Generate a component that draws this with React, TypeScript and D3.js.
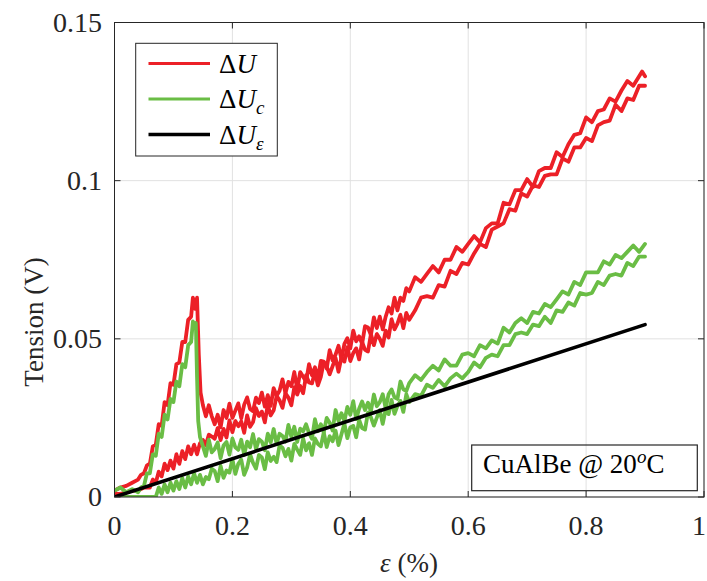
import React from "react";
import * as d3 from "d3";

// ---- data ----
const xTicks = [0, 0.2, 0.4, 0.6, 0.8, 1];
const xTickLabels = ["0", "0.2", "0.4", "0.6", "0.8", "1"];
const yTicks = [0, 0.05, 0.1, 0.15];
const yTickLabels = ["0", "0.05", "0.1", "0.15"];

// ΔU loading (strain %, tension V)
const dU_load: [number, number][] = [
  [0.00,0.002],[0.01,0.003],[0.02,0.0035],[0.03,0.0045],[0.04,0.0055],[0.045,0.007],[0.05,0.0075],[0.055,0.010],
  [0.06,0.0105],[0.065,0.016],[0.07,0.0165],[0.075,0.023],[0.08,0.0225],[0.085,0.030],[0.09,0.029],[0.095,0.036],
  [0.10,0.0355],[0.105,0.042],[0.11,0.0425],[0.115,0.049],[0.12,0.049],[0.125,0.056],[0.13,0.057],[0.133,0.063],
  [0.137,0.0595],[0.14,0.063],[0.143,0.045],[0.146,0.033],
  [0.150,0.029],[0.155,0.0255],[0.160,0.029],[0.165,0.0255],[0.170,0.023],[0.175,0.026],[0.180,0.022],[0.185,0.0275],
  [0.190,0.025],[0.195,0.0295],[0.200,0.025],[0.205,0.0273],[0.210,0.0296],[0.215,0.0249],[0.220,0.0292],[0.225,0.0315],
  [0.230,0.0278],[0.235,0.0271],[0.240,0.0314],[0.245,0.0297],[0.250,0.033],[0.255,0.0286],[0.260,0.0322],[0.265,0.0288],
  [0.270,0.0344],[0.275,0.032],[0.280,0.0336],[0.285,0.0372],[0.290,0.0328],[0.295,0.0364],[0.300,0.035],[0.305,0.0395],
  [0.310,0.034],[0.315,0.0395],[0.320,0.038],[0.325,0.0365],[0.330,0.042],[0.335,0.0385],[0.340,0.041],[0.345,0.0375],
  [0.350,0.043],[0.355,0.0428],[0.360,0.0406],[0.365,0.0464],[0.370,0.0432],[0.375,0.045],[0.380,0.0478],[0.385,0.0436],
  [0.390,0.0484],[0.395,0.0502],[0.400,0.047],[0.405,0.0526],[0.410,0.0492],[0.415,0.0508],[0.420,0.0484],[0.425,0.054],
  [0.430,0.0536],[0.435,0.0512],[0.440,0.0568],[0.445,0.0534],[0.450,0.057],[0.455,0.053],[0.460,0.057],[0.465,0.060],
  [0.470,0.058],[0.475,0.063],[0.480,0.059],[0.485,0.063],[0.490,0.062],[0.495,0.066],[0.500,0.065],
  [0.51,0.0695],[0.52,0.068],[0.53,0.0705],[0.54,0.073],[0.55,0.071],[0.56,0.075],[0.57,0.075],[0.58,0.079],
  [0.59,0.0775],[0.60,0.080],[0.61,0.0825],[0.62,0.0805],[0.63,0.085],[0.64,0.0865],[0.65,0.0865],[0.66,0.093],
  [0.67,0.0925],[0.68,0.097],[0.69,0.097],[0.70,0.1005],[0.71,0.098],[0.72,0.103],[0.73,0.104],[0.74,0.104],
  [0.75,0.109],[0.76,0.1075],[0.77,0.1115],[0.78,0.1145],[0.79,0.115],[0.80,0.120],[0.81,0.1185],[0.82,0.122],
  [0.83,0.1225],[0.84,0.126],[0.85,0.125],[0.86,0.1285],[0.87,0.1315],[0.88,0.130],[0.89,0.133],[0.895,0.1345],
  [0.90,0.133],
];
// ΔU unloading
const dU_unload: [number, number][] = [
  [0.90,0.130],[0.89,0.130],[0.88,0.1255],[0.87,0.126],[0.86,0.122],[0.85,0.124],[0.84,0.119],[0.83,0.1185],
  [0.82,0.1175],[0.81,0.1125],[0.80,0.1135],[0.79,0.1105],[0.78,0.1105],[0.77,0.106],[0.76,0.107],[0.75,0.102],
  [0.74,0.102],[0.73,0.1015],[0.72,0.098],[0.71,0.0985],[0.70,0.095],[0.69,0.096],[0.68,0.0905],[0.67,0.091],
  [0.66,0.0865],[0.65,0.0855],[0.64,0.0845],[0.63,0.079],[0.62,0.080],[0.61,0.077],[0.60,0.0735],[0.59,0.074],
  [0.58,0.0705],[0.57,0.0715],[0.56,0.0665],[0.55,0.067],[0.54,0.063],[0.53,0.0635],[0.52,0.063],[0.51,0.059],
  [0.500,0.056],[0.495,0.0582],[0.490,0.0534],[0.485,0.0576],[0.480,0.0548],[0.475,0.053],[0.470,0.0562],[0.465,0.0504],
  [0.460,0.0526],[0.455,0.0478],[0.450,0.050],[0.445,0.0515],[0.440,0.048],[0.435,0.0515],[0.430,0.046],[0.425,0.0465],
  [0.420,0.049],[0.415,0.0435],[0.410,0.047],[0.405,0.0455],[0.400,0.043],[0.395,0.0474],[0.390,0.0428],[0.385,0.0442],
  [0.380,0.0396],[0.375,0.044],[0.370,0.0414],[0.365,0.0388],[0.360,0.0412],[0.355,0.0426],[0.350,0.038],[0.345,0.0353],
  [0.340,0.0396],[0.335,0.0359],[0.330,0.0362],[0.325,0.0385],[0.320,0.0328],[0.315,0.0351],[0.310,0.0324],[0.305,0.0347],
  [0.300,0.029],[0.295,0.0314],[0.290,0.0328],[0.285,0.0282],[0.280,0.0306],[0.275,0.032],[0.270,0.0274],[0.265,0.0258],
  [0.260,0.0292],[0.255,0.0236],[0.250,0.027],[0.245,0.0256],[0.240,0.0281],[0.235,0.0237],[0.230,0.0222],[0.225,0.0258],
  [0.220,0.0203],[0.215,0.0239],[0.210,0.0224],[0.205,0.024],[0.200,0.0205],[0.195,0.0242],[0.190,0.0188],[0.185,0.0215],
  [0.180,0.018],[0.175,0.0218],[0.170,0.0184],[0.165,0.0191],[0.160,0.0197],[0.155,0.0164],[0.150,0.018],
  [0.145,0.017],[0.14,0.0135],[0.135,0.0165],[0.13,0.0135],[0.125,0.016],[0.12,0.012],[0.115,0.0145],[0.11,0.0105],
  [0.105,0.0135],[0.10,0.009],[0.095,0.0115],[0.09,0.0085],[0.085,0.0105],[0.08,0.0065],[0.075,0.008],[0.07,0.0045],
  [0.065,0.0055],[0.06,0.003],[0.05,0.003],[0.04,0.002],[0.03,0.002],[0.02,0.0015],[0.01,0.001],[0.00,0.001],
];
// ΔUc loading
const dUc_load: [number, number][] = [
  [0.00,0.002],[0.01,0.003],[0.02,0.0015],[0.03,0.0025],[0.04,0.0015],[0.045,0.003],[0.05,0.0035],[0.055,0.0075],
  [0.06,0.0075],[0.065,0.0135],[0.07,0.013],[0.075,0.020],[0.08,0.019],[0.085,0.026],[0.09,0.0245],[0.095,0.031],
  [0.10,0.030],[0.105,0.0365],[0.11,0.035],[0.115,0.042],[0.12,0.041],[0.125,0.048],[0.13,0.049],[0.133,0.0555],
  [0.136,0.0535],[0.138,0.055],[0.140,0.038],[0.142,0.024],[0.145,0.019],
  [0.150,0.016],[0.155,0.013],[0.160,0.0181],[0.165,0.0141],[0.170,0.0152],[0.175,0.0172],[0.180,0.0123],[0.185,0.0163],
  [0.190,0.0174],[0.195,0.0134],[0.200,0.0185],[0.205,0.0157],[0.210,0.0149],[0.215,0.0181],[0.220,0.0133],[0.225,0.0175],
  [0.230,0.0157],[0.235,0.0199],[0.240,0.0151],[0.245,0.0183],[0.250,0.0175],[0.255,0.0148],[0.260,0.020],[0.265,0.0173],
  [0.270,0.0215],[0.275,0.0168],[0.280,0.020],[0.285,0.0193],[0.290,0.0175],[0.295,0.0228],[0.300,0.019],[0.305,0.0222],
  [0.310,0.0174],[0.315,0.0216],[0.320,0.0208],[0.325,0.023],[0.330,0.0202],[0.335,0.0184],[0.340,0.0246],[0.345,0.0208],
  [0.350,0.023],[0.355,0.0205],[0.360,0.025],[0.365,0.0235],[0.370,0.021],[0.375,0.0275],[0.380,0.024],[0.385,0.0265],
  [0.390,0.024],[0.395,0.0285],[0.400,0.026],[0.405,0.0303],[0.410,0.0246],[0.415,0.0279],[0.420,0.0302],[0.425,0.0275],
  [0.430,0.0298],[0.435,0.0271],[0.440,0.0324],[0.445,0.0287],[0.450,0.030],[0.455,0.0325],[0.460,0.028],[0.465,0.0325],
  [0.470,0.034],[0.475,0.0315],[0.480,0.031],[0.485,0.0365],[0.490,0.034],[0.495,0.0335],[0.500,0.036],
  [0.51,0.0385],[0.52,0.037],[0.53,0.0395],[0.54,0.0415],[0.55,0.040],[0.56,0.0435],[0.57,0.0415],[0.58,0.0415],
  [0.59,0.045],[0.60,0.0455],[0.61,0.0445],[0.62,0.048],[0.63,0.047],[0.64,0.0495],[0.65,0.0485],[0.66,0.0535],
  [0.67,0.052],[0.68,0.055],[0.69,0.0565],[0.70,0.055],[0.71,0.0585],[0.72,0.058],[0.73,0.061],[0.74,0.060],
  [0.75,0.0625],[0.76,0.065],[0.77,0.064],[0.78,0.068],[0.79,0.067],[0.80,0.071],[0.81,0.071],[0.82,0.071],
  [0.83,0.0745],[0.84,0.0735],[0.85,0.0765],[0.86,0.0755],[0.87,0.0775],[0.88,0.0795],[0.89,0.0775],[0.90,0.080],
];
// ΔUc unloading
const dUc_unload: [number, number][] = [
  [0.90,0.076],[0.89,0.076],[0.88,0.073],[0.87,0.074],[0.86,0.070],[0.85,0.0705],[0.84,0.070],[0.83,0.067],
  [0.82,0.068],[0.81,0.0645],[0.80,0.064],[0.79,0.0645],[0.78,0.0605],[0.77,0.0615],[0.76,0.0585],[0.75,0.059],
  [0.74,0.055],[0.73,0.057],[0.72,0.054],[0.71,0.0545],[0.70,0.0515],[0.69,0.052],[0.68,0.0515],[0.67,0.048],
  [0.66,0.048],[0.65,0.0445],[0.64,0.045],[0.63,0.044],[0.62,0.041],[0.61,0.0425],[0.60,0.0395],[0.59,0.0375],
  [0.58,0.039],[0.57,0.0375],[0.56,0.035],[0.55,0.037],[0.54,0.0345],[0.53,0.0355],[0.52,0.032],[0.51,0.0325],
  [0.500,0.030],[0.495,0.0325],[0.490,0.0269],[0.485,0.0304],[0.480,0.0288],[0.475,0.0263],[0.470,0.0307],[0.465,0.0262],
  [0.460,0.0276],[0.455,0.0231],[0.450,0.0275],[0.445,0.0251],[0.440,0.0226],[0.435,0.0252],[0.430,0.0267],[0.425,0.0213],
  [0.420,0.0218],[0.415,0.0244],[0.410,0.0189],[0.405,0.0225],[0.400,0.022],[0.395,0.0186],[0.390,0.0232],[0.385,0.0198],
  [0.380,0.0164],[0.375,0.021],[0.370,0.0176],[0.365,0.0192],[0.360,0.0158],[0.355,0.0204],[0.350,0.016],[0.345,0.0168],
  [0.340,0.0185],[0.335,0.0133],[0.330,0.017],[0.325,0.0148],[0.320,0.0185],[0.315,0.0133],[0.310,0.015],[0.305,0.0168],
  [0.300,0.0115],[0.295,0.0152],[0.290,0.0129],[0.285,0.0156],[0.280,0.0163],[0.275,0.011],[0.270,0.0127],[0.265,0.0114],
  [0.260,0.0141],[0.255,0.0088],[0.250,0.0125],[0.245,0.0133],[0.240,0.009],[0.235,0.0108],[0.230,0.0135],[0.225,0.0093],
  [0.220,0.007],[0.215,0.0118],[0.210,0.0105],[0.205,0.0073],[0.200,0.012],[0.195,0.0077],[0.190,0.0084],[0.185,0.0061],
  [0.180,0.0098],[0.175,0.005],[0.170,0.0082],[0.165,0.0089],[0.160,0.0056],[0.155,0.0063],[0.150,0.004],
  [0.145,0.007],[0.14,0.0045],[0.135,0.0075],[0.13,0.004],[0.125,0.0065],[0.12,0.003],[0.115,0.006],[0.11,0.0025],
  [0.105,0.005],[0.10,0.002],[0.095,0.0045],[0.09,0.0015],[0.085,0.004],[0.08,0.001],[0.075,0.003],[0.07,0.000],
  [0.06,0.000],[0.05,0.000],[0.04,0.000],[0.03,0.000],[0.02,0.000],[0.01,0.000],[0.00,0.000],
];
// ΔUε (straight line)
const dUe: [number, number][] = [
  [0.0, 0.0],
  [0.9, 0.0545],
];

const RED = "#ec2027";
const GREEN = "#6abd45";
const BLACK = "#000000";
const AX = "#262626";
const GRID = "#e1e1e1";
const FONT = "'Liberation Serif', 'Times New Roman', Times, serif";

export default function App() {
  const W = 707, H = 581;
  const x = d3.scaleLinear().domain([0, 1]).range([114.5, 704]);
  const y = d3.scaleLinear().domain([0, 0.15]).range([497, 22.5]);
  const line = d3
    .line<[number, number]>()
    .x((d) => x(d[0]))
    .y((d) => y(d[1]));

  const [x0, x1] = x.range();
  const [y0, y1] = y.range();
  const tickLen = 6;

  const series = [
    { data: [dU_load, dU_unload], color: RED, w: 3.8 },
    { data: [dUc_load, dUc_unload], color: GREEN, w: 3.8 },
    { data: [dUe], color: BLACK, w: 3.6 },
  ];

  const legendItems = [
    { color: RED, sub: null as string | null },
    { color: GREEN, sub: "c" },
    { color: BLACK, sub: "ε" },
  ];

  const txt = { fontFamily: FONT };

  return (
    <svg
      width={W}
      height={H}
      style={{ position: "absolute", left: 0, top: 0, background: "#fff", fontFamily: FONT }}
    >
      <rect x={0} y={0} width={W} height={H} fill="#fff" />
      {/* grid */}
      {xTicks.map((t) => (
        <line key={"gx" + t} x1={x(t)} x2={x(t)} y1={y1} y2={y0} stroke={GRID} strokeWidth={1} />
      ))}
      {yTicks.map((t) => (
        <line key={"gy" + t} x1={x0} x2={x1} y1={y(t)} y2={y(t)} stroke={GRID} strokeWidth={1} />
      ))}

      {/* data */}
      <defs>
        <clipPath id="plotclip">
          <rect x={x0} y={y1} width={x1 - x0} height={y0 - y1} />
        </clipPath>
      </defs>
      <g clipPath="url(#plotclip)">
        {series.map((s, i) =>
          s.data.map((d, j) => (
            <path
              key={i + "-" + j}
              d={line(d) || ""}
              fill="none"
              stroke={s.color}
              strokeWidth={s.w}
              strokeLinejoin="round"
              strokeLinecap="round"
            />
          ))
        )}
      </g>

      {/* axes box */}
      <rect x={x0} y={y1} width={x1 - x0} height={y0 - y1} fill="none" stroke={AX} strokeWidth={1} />
      {xTicks.map((t) => (
        <g key={"tx" + t}>
          <line x1={x(t)} x2={x(t)} y1={y0} y2={y0 - tickLen} stroke={AX} />
          <line x1={x(t)} x2={x(t)} y1={y1} y2={y1 + tickLen} stroke={AX} />
        </g>
      ))}
      {yTicks.map((t) => (
        <g key={"ty" + t}>
          <line x1={x0} x2={x0 + tickLen} y1={y(t)} y2={y(t)} stroke={AX} />
          <line x1={x1} x2={x1 - tickLen} y1={y(t)} y2={y(t)} stroke={AX} />
        </g>
      ))}

      {/* tick labels */}
      {xTicks.map((t, i) => (
        <text key={"lx" + t} x={Math.min(x(t), 699)} y={535} textAnchor="middle" fontSize={28} fill={AX} style={txt}>
          {xTickLabels[i]}
        </text>
      ))}
      {yTicks.map((t, i) => (
        <text key={"ly" + t} x={102} y={y(t) + 9} textAnchor="end" fontSize={28} fill={AX} style={txt}>
          {yTickLabels[i]}
        </text>
      ))}

      {/* axis labels */}
      <text x={409} y={572} textAnchor="middle" fontSize={27} fill={AX} style={txt}>
        <tspan fontStyle="italic">ε</tspan>
        <tspan> (%)</tspan>
      </text>
      <text
        transform={`translate(43, 322) rotate(-90)`}
        textAnchor="middle"
        fontSize={27}
        fill={AX}
        style={txt}
      >
        Tension (V)
      </text>

      {/* legend */}
      <rect x={135.7} y={43.3} width={141.6} height={112.7} fill="#fff" stroke={AX} strokeWidth={1} />
      {legendItems.map((it, i) => {
        const cy = 63.5 + i * 35.5;
        return (
          <g key={"lg" + i}>
            <line x1={148.5} x2={210} y1={cy} y2={cy} stroke={it.color} strokeWidth={i === 2 ? 3.6 : 3.2} />
            <text x={219} y={cy + 9} fontSize={27} fill="#000" style={txt}>
              <tspan>Δ</tspan>
              <tspan fontStyle="italic">U</tspan>
              {it.sub && (
                <tspan fontStyle="italic" fontSize={19} dy={6}>
                  {it.sub}
                </tspan>
              )}
            </text>
          </g>
        );
      })}

      {/* annotation */}
      <rect x={471.7} y={445} width={225.6} height={45.7} fill="none" stroke={AX} strokeWidth={1.2} />
      <text x={483} y={473} fontSize={27} fill="#000" style={txt}>
        <tspan>CuAlBe @ 20</tspan>
        <tspan fontStyle="italic" fontSize={19} dy={-10}>o</tspan>
        <tspan dy={10}>C</tspan>
      </text>
    </svg>
  );
}
